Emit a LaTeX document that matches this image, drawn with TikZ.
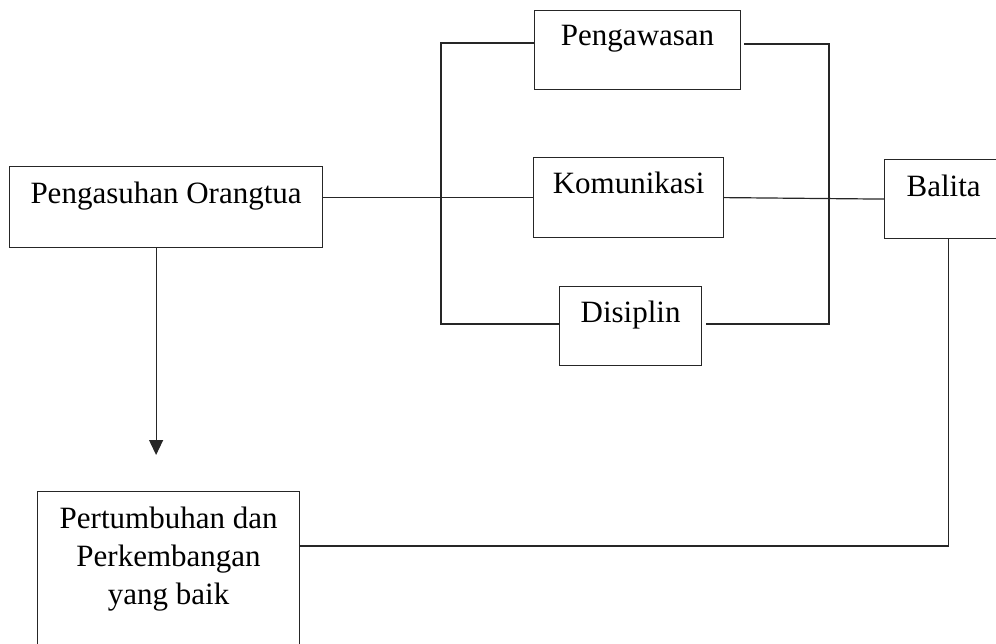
\documentclass[tikz,border=0pt]{standalone}
\usepackage{fontspec}
\setmainfont{Liberation Serif}
\usetikzlibrary{arrows.meta}

\tikzset{
  kotak/.style={draw=black!85, line width=1.2pt, anchor=north west, inner sep=0pt,
    font=\fontsize{31}{38}\selectfont},
  garis/.style={draw=black!85, line width=1.2pt}
}

\begin{document}
\begin{tikzpicture}[x=1pt, y=-1pt]
  \useasboundingbox (0,0) rectangle (996,644);

  % Kotak-kotak
  \node[kotak, minimum width=313pt, text height=37pt, text depth=44pt] (pengasuhan) at (9,166) {Pengasuhan Orangtua};
  \node[kotak, minimum width=206pt, text height=35pt, text depth=44pt] (pengawasan) at (534,10) {Pengawasan};
  \node[kotak, minimum width=190pt, text height=36pt, text depth=44pt] (komunikasi) at (533,157) {Komunikasi};
  \node[kotak, minimum width=142pt, text height=36pt, text depth=43pt] (disiplin) at (559,286) {Disiplin};
  \node[kotak, minimum width=118pt, text height=37pt, text depth=42pt] (balita) at (884,159) {Balita};
  \node[kotak, minimum width=262pt, text height=37pt, text depth=150pt] (pertumbuhan) at (37,491)
    {\begin{tabular}[t]{@{}c@{}}Pertumbuhan dan\\Perkembangan\\yang baik\end{tabular}};

  % Percabangan kiri dan kanan
  \coordinate (kiri) at (441,0);
  \coordinate (kanan) at (829,0);

  \draw[garis] (pengasuhan.east |- komunikasi.west) -- (komunikasi.west);
  \draw[garis] ([yshift=7pt]pengawasan.west) -- ([yshift=7pt]pengawasan.west -| kiri) |- ([yshift=2pt]disiplin.west);
  \draw[garis] ([xshift=3pt,yshift=6pt]pengawasan.east) -- ([yshift=6pt]pengawasan.east -| kanan) |- ([xshift=4pt,yshift=2pt]disiplin.east);
  \draw[garis] (komunikasi.east) -- (balita.west);

  % Panah ke bawah
  \draw[garis, -{Triangle[width=14pt,length=15pt]}, shorten >=36pt]
    ([xshift=-10pt]pengasuhan.south) -- ([xshift=-10pt]pengasuhan.south |- pertumbuhan.north);

  % Balita ke pertumbuhan
  \draw[garis] ([xshift=5pt]balita.south) |- ([yshift=-55pt]pertumbuhan.north east);
\end{tikzpicture}
\end{document}
